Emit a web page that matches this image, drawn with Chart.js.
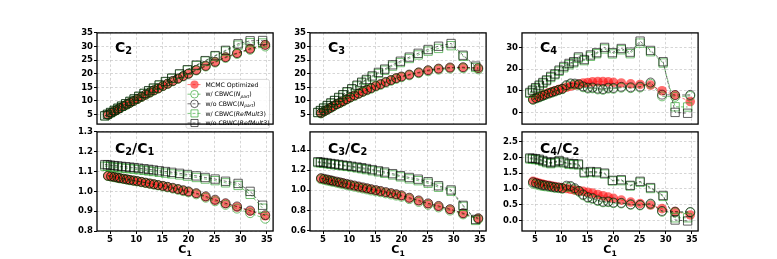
<!DOCTYPE html>
<html>
<head>
<title>Cumulants vs C1</title>
<script src="https://cdn.jsdelivr.net/npm/chart.js"></script>
<style>
  body { margin: 0; background: #fff; }
  #wrap { position: relative; width: 777px; height: 259px; overflow: hidden; }
</style>
</head>
<body>
<div id="wrap"></div>
<script>
// x positions (mean C1) of the two centrality definitions
const xCirc = [4.6, 5.2, 5.8, 6.4, 6.9, 7.6, 8.2, 8.8, 9.5, 10.2, 11.0, 11.8, 12.6, 13.4, 14.2, 15.1, 16.0, 17.0, 18.0, 19.0, 20.0, 21.5, 23.3, 25.1, 27.1, 29.3, 31.8, 34.7];
const xSq = [4.0, 4.5, 5.1, 5.8, 6.5, 7.2, 8.0, 8.8, 9.6, 10.5, 11.5, 12.4, 13.3, 14.4, 15.6, 16.8, 18.3, 19.8, 21.5, 23.2, 25.1, 27.1, 29.5, 31.8, 34.2];

// C2
const c2Mcmc    = [4.96, 5.6, 6.2, 6.85, 7.4, 8.1, 8.7, 9.3, 10.0, 10.7, 11.5, 12.3, 13.1, 13.9, 14.6, 15.5, 16.3, 17.3, 18.2, 19.1, 20.0, 21.3, 22.8, 24.3, 26.0, 27.5, 29.1, 30.6];
const c2WNpart  = [4.95, 5.58, 6.18, 6.83, 7.38, 8.07, 8.67, 9.27, 9.97, 10.66, 11.46, 12.25, 13.05, 13.84, 14.54, 15.43, 16.23, 17.22, 18.11, 19.0, 19.9, 21.2, 22.65, 24.1, 25.8, 27.25, 28.8, 30.0];
const c2WoNpart = [4.97, 5.61, 6.22, 6.87, 7.42, 8.12, 8.73, 9.33, 10.03, 10.74, 11.54, 12.34, 13.15, 13.95, 14.66, 15.56, 16.37, 17.37, 18.28, 19.18, 20.08, 21.4, 22.9, 24.4, 26.1, 27.6, 29.2, 30.6];
const c2WRef    = [4.51, 5.07, 5.73, 6.51, 7.28, 8.05, 8.93, 9.80, 10.68, 11.64, 12.72, 13.68, 14.63, 15.78, 17.04, 18.28, 19.82, 21.32, 23.0, 24.64, 26.46, 28.3, 30.5, 31.4, 31.3];
const c2WoRef   = [4.54, 5.10, 5.77, 6.55, 7.33, 8.11, 8.99, 9.87, 10.75, 11.73, 12.81, 13.78, 14.74, 15.90, 17.16, 18.41, 19.97, 21.48, 23.18, 24.82, 26.66, 28.6, 31.0, 32.1, 32.2];

// C2/C1
const r21Mcmc    = [1.078, 1.075, 1.072, 1.069, 1.066, 1.063, 1.060, 1.057, 1.054, 1.051, 1.047, 1.043, 1.039, 1.035, 1.031, 1.027, 1.022, 1.016, 1.010, 1.004, 0.998, 0.989, 0.972, 0.955, 0.938, 0.921, 0.900, 0.877];
const r21WNpart  = [1.077, 1.074, 1.071, 1.068, 1.065, 1.062, 1.059, 1.056, 1.053, 1.050, 1.046, 1.042, 1.038, 1.034, 1.030, 1.025, 1.020, 1.014, 1.008, 1.001, 0.995, 0.985, 0.968, 0.950, 0.932, 0.913, 0.890, 0.862];
const r21WoNpart = [1.079, 1.076, 1.073, 1.070, 1.067, 1.064, 1.061, 1.058, 1.055, 1.052, 1.048, 1.044, 1.040, 1.036, 1.032, 1.028, 1.023, 1.018, 1.012, 1.006, 1.000, 0.991, 0.975, 0.958, 0.940, 0.924, 0.903, 0.880];
const r21WRef    = [1.127, 1.126, 1.124, 1.122, 1.120, 1.118, 1.116, 1.114, 1.112, 1.109, 1.106, 1.103, 1.100, 1.096, 1.092, 1.088, 1.083, 1.077, 1.070, 1.062, 1.054, 1.043, 1.030, 0.985, 0.915];
const r21WoRef   = [1.135, 1.134, 1.132, 1.130, 1.128, 1.126, 1.124, 1.122, 1.120, 1.117, 1.114, 1.111, 1.108, 1.104, 1.100, 1.096, 1.091, 1.085, 1.078, 1.070, 1.062, 1.051, 1.040, 1.000, 0.930];

// C3
const c3Mcmc    = [5.5, 6.2, 6.8, 7.5, 8.0, 8.8, 9.3, 9.9, 10.6, 11.3, 12.0, 12.7, 13.4, 14.1, 14.7, 15.5, 16.1, 16.9, 17.6, 18.3, 18.9, 19.6, 20.4, 21.2, 21.8, 22.2, 22.3, 22.0];
const c3WNpart  = [5.45, 6.15, 6.75, 7.4, 7.95, 8.7, 9.2, 9.8, 10.5, 11.2, 11.9, 12.6, 13.3, 13.9, 14.5, 15.3, 15.9, 16.7, 17.4, 18.1, 18.7, 19.4, 20.2, 20.9, 21.5, 21.9, 22.0, 21.6];
const c3WoNpart = [5.5, 6.2, 6.85, 7.5, 8.05, 8.8, 9.35, 9.95, 10.65, 11.35, 12.05, 12.75, 13.45, 14.15, 14.75, 15.55, 16.2, 17.0, 17.7, 18.4, 19.0, 19.7, 20.5, 21.3, 21.9, 22.3, 22.4, 22.1];
const c3WRef    = [5.7, 6.4, 7.3, 8.2, 9.1, 10.1, 11.1, 12.2, 13.2, 14.3, 15.5, 16.6, 17.6, 18.8, 20.1, 21.3, 22.8, 24.1, 25.6, 26.9, 28.3, 29.3, 30.3, 26.4, 22.3];
const c3WoRef   = [5.8, 6.5, 7.4, 8.3, 9.3, 10.2, 11.3, 12.3, 13.4, 14.5, 15.8, 16.9, 17.9, 19.2, 20.5, 21.7, 23.3, 24.6, 26.1, 27.5, 28.9, 30.1, 31.1, 26.8, 22.8];

// C3/C2
const r32Mcmc    = [1.117, 1.110, 1.103, 1.096, 1.090, 1.082, 1.075, 1.068, 1.060, 1.052, 1.043, 1.034, 1.025, 1.016, 1.007, 0.998, 0.989, 0.978, 0.968, 0.957, 0.946, 0.922, 0.895, 0.866, 0.840, 0.808, 0.768, 0.718];
const r32WNpart  = [1.110, 1.103, 1.096, 1.089, 1.083, 1.075, 1.068, 1.060, 1.052, 1.044, 1.035, 1.026, 1.017, 1.008, 0.998, 0.989, 0.980, 0.969, 0.958, 0.947, 0.936, 0.912, 0.884, 0.855, 0.829, 0.798, 0.760, 0.712];
const r32WoNpart = [1.121, 1.114, 1.107, 1.100, 1.094, 1.086, 1.079, 1.072, 1.064, 1.056, 1.047, 1.038, 1.029, 1.020, 1.011, 1.002, 0.993, 0.982, 0.972, 0.961, 0.950, 0.926, 0.899, 0.870, 0.844, 0.812, 0.772, 0.722];
const r32WRef    = [1.275, 1.272, 1.268, 1.263, 1.258, 1.253, 1.248, 1.242, 1.237, 1.230, 1.222, 1.214, 1.205, 1.194, 1.182, 1.169, 1.152, 1.133, 1.113, 1.095, 1.070, 1.030, 0.990, 0.840, 0.700];
const r32WoRef   = [1.283, 1.280, 1.276, 1.271, 1.266, 1.261, 1.256, 1.250, 1.245, 1.238, 1.231, 1.224, 1.216, 1.205, 1.193, 1.181, 1.165, 1.145, 1.127, 1.110, 1.085, 1.045, 1.003, 0.850, 0.710];

// C4
const c4Mcmc    = [6.1, 6.8, 7.3, 7.9, 8.4, 9.0, 9.5, 10.0, 10.5, 11.0, 11.6, 12.1, 12.6, 13.1, 13.5, 13.8, 14.1, 14.2, 14.2, 14.1, 13.9, 13.6, 13.2, 12.9, 12.6, 10.0, 8.0, 5.0];
const c4WNpart  = [5.8, 6.4, 6.9, 7.5, 8.0, 8.6, 9.1, 9.6, 10.2, 10.7, 12.2, 13.0, 12.9, 12.6, 11.6, 11.0, 11.1, 10.6, 10.4, 11.0, 10.9, 11.4, 11.2, 11.5, 13.2, 7.4, 7.2, 7.6];
const c4WoNpart = [6.0, 6.6, 7.1, 7.7, 8.2, 8.8, 9.3, 9.8, 10.4, 10.9, 12.6, 13.4, 13.3, 13.0, 12.0, 11.4, 11.5, 11.0, 10.8, 11.4, 11.3, 11.8, 11.6, 11.9, 13.8, 8.2, 8.0, 8.1];
const c4WRef    = [8.8, 9.9, 11.0, 12.2, 13.4, 14.6, 16.1, 17.4, 19.0, 20.6, 22.0, 22.9, 25.0, 23.9, 25.9, 27.1, 29.3, 27.0, 28.9, 27.1, 32.0, 28.0, 22.8, 2.6, 2.5];
const c4WoRef   = [9.2, 10.3, 11.4, 12.6, 13.8, 15.0, 16.6, 17.8, 19.5, 21.2, 22.6, 23.4, 25.6, 24.4, 26.5, 27.6, 30.0, 27.6, 29.5, 27.8, 32.9, 28.6, 23.4, 0.0, -0.4];

// C4/C2
const r42Mcmc    = [1.24, 1.21, 1.18, 1.15, 1.13, 1.11, 1.09, 1.07, 1.05, 1.03, 1.01, 0.985, 0.96, 0.94, 0.92, 0.89, 0.865, 0.82, 0.78, 0.74, 0.70, 0.64, 0.58, 0.53, 0.485, 0.37, 0.28, 0.17];
const r42WNpart  = [1.17, 1.14, 1.11, 1.09, 1.08, 1.06, 1.05, 1.03, 1.02, 1.00, 1.06, 1.06, 0.985, 0.906, 0.795, 0.71, 0.68, 0.613, 0.571, 0.576, 0.545, 0.535, 0.491, 0.473, 0.508, 0.27, 0.25, 0.25];
const r42WoNpart = [1.21, 1.18, 1.15, 1.12, 1.11, 1.09, 1.07, 1.05, 1.04, 1.02, 1.10, 1.09, 1.02, 0.935, 0.82, 0.735, 0.705, 0.636, 0.593, 0.597, 0.565, 0.554, 0.509, 0.49, 0.53, 0.298, 0.275, 0.265];
const r42WRef    = [1.95, 1.94, 1.93, 1.91, 1.87, 1.83, 1.80, 1.83, 1.87, 1.82, 1.78, 1.77, 1.76, 1.50, 1.52, 1.51, 1.47, 1.25, 1.26, 1.09, 1.21, 1.01, 0.76, 0.08, 0.08];
const r42WoRef   = [1.98, 1.97, 1.96, 1.94, 1.90, 1.86, 1.83, 1.86, 1.90, 1.85, 1.81, 1.80, 1.79, 1.53, 1.55, 1.54, 1.50, 1.27, 1.29, 1.11, 1.24, 1.04, 0.79, 0.01, -0.02];

// ticks
const xTicks = [5, 10, 15, 20, 25, 30, 35];
const cTicks = [5, 10, 15, 20, 25, 30, 35];
const c4Ticks = [0, 10, 20, 30];
const r21Ticks = [0.8, 0.9, 1.0, 1.1, 1.2, 1.3];
const r21Labels = ['0.8', '0.9', '1.0', '1.1', '1.2', '1.3'];
const r32Ticks = [0.6, 0.8, 1.0, 1.2, 1.4];
const r32Labels = ['0.6', '0.8', '1.0', '1.2', '1.4'];
const r42Ticks = [0.0, 0.5, 1.0, 1.5, 2.0, 2.5];
const r42Labels = ['0.0', '0.5', '1.0', '1.5', '2.0', '2.5'];

const GREEN = 'rgba(40,160,40,0.65)';
const BLACK = 'rgba(0,0,0,0.62)';
const RED = 'rgba(255,15,15,0.6)';

const seriesStyle = [
  { text: [['MCMC Optimized']], shape: 'circle', r: 4.8, fill: RED, edge: RED, bw: 0, line: 'rgba(255,0,0,0.6)', xs: xCirc },
  { text: [['w/ CBWC('], ['N', 'i'], ['part', 'is'], [')']], shape: 'circle', r: 4.5, fill: 'rgba(0,0,0,0)', edge: GREEN, bw: 1, line: GREEN, xs: xCirc },
  { text: [['w/o CBWC('], ['N', 'i'], ['part', 'is'], [')']], shape: 'circle', r: 4.5, fill: 'rgba(0,0,0,0)', edge: BLACK, bw: 1, line: BLACK, xs: xCirc },
  { text: [['w/ CBWC('], ['RefMult3', 'i'], [')']], shape: 'rect', r: 5.9, fill: 'rgba(0,0,0,0)', edge: GREEN, bw: 1, line: GREEN, xs: xSq },
  { text: [['w/o CBWC('], ['RefMult3', 'i'], [')']], shape: 'rect', r: 5.9, fill: 'rgba(0,0,0,0)', edge: BLACK, bw: 1, line: BLACK, xs: xSq }
];

const panels = [
  { col: 0, row: 0, yMin: 1.5, yMax: 35, yTicks: cTicks, title: [['C'], ['2', 's']], series: [c2Mcmc, c2WNpart, c2WoNpart, c2WRef, c2WoRef], legend: true },
  { col: 1, row: 0, yMin: 1.5, yMax: 35, yTicks: cTicks, title: [['C'], ['3', 's']], series: [c3Mcmc, c3WNpart, c3WoNpart, c3WRef, c3WoRef] },
  { col: 2, row: 0, yMin: -5.4, yMax: 36.7, yTicks: c4Ticks, title: [['C'], ['4', 's']], series: [c4Mcmc, c4WNpart, c4WoNpart, c4WRef, c4WoRef] },
  { col: 0, row: 1, yMin: 0.8, yMax: 1.3, yTicks: r21Ticks, yLabels: r21Labels, title: [['C'], ['2', 's'], ['/C'], ['1', 's']], series: [r21Mcmc, r21WNpart, r21WoNpart, r21WRef, r21WoRef] },
  { col: 1, row: 1, yMin: 0.595, yMax: 1.58, yTicks: r32Ticks, yLabels: r32Labels, title: [['C'], ['3', 's'], ['/C'], ['2', 's']], series: [r32Mcmc, r32WNpart, r32WoNpart, r32WRef, r32WoRef] },
  { col: 2, row: 1, yMin: -0.34, yMax: 2.81, yTicks: r42Ticks, yLabels: r42Labels, title: [['C'], ['4', 's'], ['/C'], ['2', 's']], series: [r42Mcmc, r42WNpart, r42WoNpart, r42WRef, r42WoRef] }
];

const colLeft = [97, 310, 522.3];
const rowTop = [32, 131];
const rowH = [99, 100];
const PW = 177;
const FONT = '"DejaVu Sans", sans-serif';

// text with plain / italic / subscript pieces
function drawRich(ctx, parts, x, y, size, bold) {
  parts.forEach(([t, k]) => {
    k = k || '';
    const sub = k.includes('s');
    const fs = sub ? size * 0.7 : size;
    ctx.font = (k.includes('i') ? 'italic ' : '') + (bold ? 'bold ' : '') + fs + 'px ' + FONT;
    ctx.fillText(t, x, y + (sub ? size * 0.2 : 0));
    x += ctx.measureText(t).width;
  });
  return x;
}
function richWidth(ctx, parts, size, bold) {
  let w = 0;
  parts.forEach(([t, k]) => {
    k = k || '';
    const fs = k.includes('s') ? size * 0.7 : size;
    ctx.font = (k.includes('i') ? 'italic ' : '') + (bold ? 'bold ' : '') + fs + 'px ' + FONT;
    w += ctx.measureText(t).width;
  });
  return w;
}

function marker(ctx, s, x, y, scale) {
  const r = s.r * scale;
  ctx.beginPath();
  if (s.shape === 'circle') ctx.arc(x, y, r, 0, Math.PI * 2);
  else { const h = r * Math.SQRT1_2; ctx.rect(x - h, y - h, 2 * h, 2 * h); }
  ctx.fillStyle = s.fill; ctx.fill();
  if (s.bw) { ctx.lineWidth = s.bw; ctx.strokeStyle = s.edge; ctx.stroke(); }
}

function drawLegend(ctx, ca) {
  const x0 = ca.left + 89, y0 = ca.top + 46.5, w = 83.5, h = 49;
  ctx.save();
  ctx.beginPath();
  ctx.roundRect(x0, y0, w, h, 2);
  ctx.fillStyle = 'rgba(255,255,255,0.85)'; ctx.fill();
  ctx.strokeStyle = '#d0d0d0'; ctx.lineWidth = 0.8; ctx.stroke();
  seriesStyle.forEach((s, i) => {
    const cy = y0 + 5.2 + i * 9.6, cx = x0 + 8.5;
    ctx.beginPath();
    ctx.setLineDash([3, 2]);
    ctx.strokeStyle = s.line; ctx.lineWidth = 0.9;
    ctx.moveTo(cx - 7, cy); ctx.lineTo(cx + 7, cy); ctx.stroke();
    ctx.setLineDash([]);
    marker(ctx, s, cx, cy, 0.85);
    ctx.fillStyle = '#000'; ctx.textBaseline = 'alphabetic'; ctx.textAlign = 'left';
    drawRich(ctx, s.text, x0 + 19.5, cy + 2.2, 6.2, false);
  });
  ctx.restore();
}

function panelPlugin(p) {
  return {
    id: 'deco',
    afterDraw(chart) {
      const ctx = chart.ctx, ca = chart.chartArea;
      ctx.save();
      if (p.legend) drawLegend(ctx, ca);
      ctx.fillStyle = '#000'; ctx.textAlign = 'left'; ctx.textBaseline = 'alphabetic';
      drawRich(ctx, p.title, ca.left + 18, ca.top + (p.row ? 20.7 : 18.7), 14, true);
      if (p.row === 1) {
        const lab = [['C'], ['1', 's']];
        const w = richWidth(ctx, lab, 11, true);
        drawRich(ctx, lab, (ca.left + ca.right) / 2 - w / 2, ca.bottom + 22.3, 11, true);
      }
      ctx.strokeStyle = '#000'; ctx.lineWidth = 1.3;
      ctx.strokeRect(ca.left, ca.top, ca.right - ca.left, ca.bottom - ca.top);
      ctx.restore();
    }
  };
}

const wrap = document.getElementById('wrap');
const tickFont = { family: FONT, size: 8.5, weight: 'bold' };
const gridColor = 'rgba(160,160,160,0.55)';

panels.forEach(p => {
  const bottom = p.row === 1;
  const L = colLeft[p.col], T = rowTop[p.row], H = rowH[p.row];
  const cw = PW + 46, ch = H + 6 + (bottom ? 28 : 0);
  const cv = document.createElement('canvas');
  cv.width = cw; cv.height = ch;
  cv.style.cssText = 'position:absolute;left:' + (L - 40) + 'px;top:' + (T - 6) + 'px;width:' + cw + 'px;height:' + ch + 'px';
  wrap.appendChild(cv);

  const datasets = seriesStyle.map((s, k) => ({
    data: s.xs.map((x, i) => ({ x: x, y: p.series[k][i] })),
    showLine: true,
    borderColor: s.line,
    borderWidth: 0.9,
    borderDash: [3, 2],
    pointStyle: s.shape,
    pointRadius: s.r,
    pointBackgroundColor: s.fill,
    pointBorderColor: s.edge,
    pointBorderWidth: s.bw,
    fill: false
  })).reverse();

  new Chart(cv, {
    type: 'scatter',
    data: { datasets: datasets },
    options: {
      responsive: false,
      animation: false,
      devicePixelRatio: 1,
      events: [],
      layout: { padding: { top: 6, right: 6, left: 0, bottom: 0 } },
      plugins: { legend: { display: false }, tooltip: { enabled: false } },
      scales: {
        x: {
          type: 'linear', min: 2.5, max: 36.2,
          afterBuildTicks: s => { s.ticks = xTicks.map(v => ({ value: v })); },
          afterFit: s => { s.height = bottom ? 28 : 0; },
          grid: { color: gridColor, lineWidth: 0.8, drawTicks: bottom, tickLength: 3, tickColor: '#000', tickWidth: 1, tickBorderDash: [] },
          border: { display: false, dash: [2.5, 2] },
          ticks: { display: bottom, font: tickFont, color: '#000', padding: 1, maxRotation: 0, autoSkip: false, callback: v => String(v) }
        },
        y: {
          type: 'linear', min: p.yMin, max: p.yMax,
          afterBuildTicks: s => { s.ticks = p.yTicks.map(v => ({ value: v })); },
          afterFit: s => { s.width = 40; },
          grid: { color: gridColor, lineWidth: 0.8, drawTicks: true, tickLength: 3, tickColor: '#000', tickWidth: 1, tickBorderDash: [] },
          border: { display: false, dash: [2.5, 2] },
          ticks: { font: tickFont, color: '#000', padding: 1, autoSkip: false, callback: (v, i) => p.yLabels ? p.yLabels[i] : String(v) }
        }
      }
    },
    plugins: [panelPlugin(p)]
  });
});
</script>
</body>
</html>
